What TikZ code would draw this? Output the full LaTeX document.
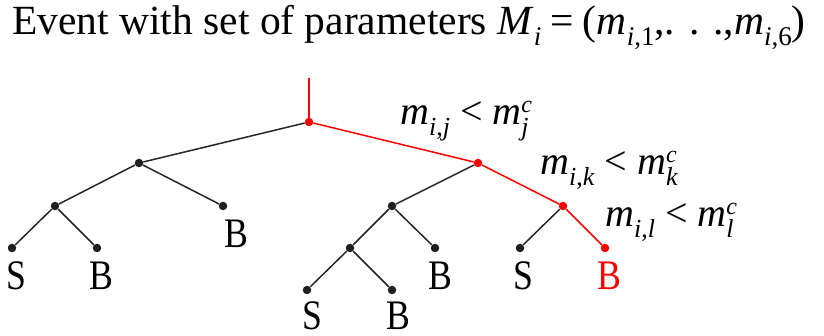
\documentclass[tikz,border=0pt]{standalone}
\usepackage{fontspec}
\setmainfont{Liberation Serif}
\newcommand{\tsub}[2]{\raisebox{-0.26em}{\fontsize{#1}{#1}\selectfont #2}}
\newcommand{\tsup}[2]{\raisebox{0.3em}{\fontsize{#1}{#1}\selectfont #2}}
\begin{document}
\begin{tikzpicture}[x=1pt,y=-1pt,
  dot/.style={circle,fill=black!88,inner sep=0pt,minimum size=8.5pt},
  rdot/.style={dot,fill=red},
  edge/.style={draw=black!85,line width=1.5pt},
  redge/.style={draw=red,line width=1.5pt},
  leaf/.style={anchor=base,inner sep=0pt,text depth=0pt,font=\fontsize{42}{42}\selectfont},
  cond/.style={anchor=base west,inner sep=0pt,font=\fontsize{40}{40}\selectfont},
  title/.style={anchor=base west,inner sep=0pt,font=\fontsize{41.5}{42}\selectfont}]
\useasboundingbox (0,0) rectangle (824,336);
% title
\node[title] (title) at (12,35) {Event with set of parameters \textit{M}\tsub{27}{\textit{i}}\hspace{0.22em}=\hspace{0.22em}(\textit{m}\tsub{27}{\textit{i},1},. . .,\textit{m}\tsub{27}{\textit{i},6})};
% tree nodes
\coordinate (top) at (309,78);
\node[rdot] (n0) at (309,122) {};
\node[dot] (n1) at (139,163) {};
\node[rdot] (n2) at (478,163) {};
\node[dot] (n3) at (55,206) {};
\node[dot] (n4) at (223,206) {};
\node[dot] (n5) at (392,206) {};
\node[rdot] (n6) at (563,206) {};
\node[dot] (n7) at (12,248) {};
\node[dot] (n8) at (97,248) {};
\node[dot] (n9) at (350,248) {};
\node[dot] (n10) at (435,248) {};
\node[dot] (n11) at (520,248) {};
\node[rdot] (n12) at (605,248) {};
\node[dot] (n13) at (307,290) {};
\node[dot] (n14) at (392,290) {};
% edges
\draw[redge] (top) -- (n0);
\draw[edge] (n0) -- (n1);
\draw[redge] (n0) -- (n2);
\draw[edge] (n1) -- (n3);
\draw[edge] (n1) -- (n4);
\draw[edge] (n3) -- (n7);
\draw[edge] (n3) -- (n8);
\draw[edge] (n2) -- (n5);
\draw[redge] (n2) -- (n6);
\draw[edge] (n5) -- (n9);
\draw[edge] (n5) -- (n10);
\draw[edge] (n9) -- (n13);
\draw[edge] (n9) -- (n14);
\draw[edge] (n6) -- (n11);
\draw[redge] (n6) -- (n12);
% leaf labels
\node[leaf] (l4) at (236,248) {\scalebox{0.85}[1]{B}};
\node[leaf] (l7) at (16,290) {\scalebox{0.85}[1]{S}};
\node[leaf] (l8) at (101,290) {\scalebox{0.85}[1]{B}};
\node[leaf] (l10) at (440,290) {\scalebox{0.85}[1]{B}};
\node[leaf] (l11) at (523,290) {\scalebox{0.85}[1]{S}};
\node[leaf,text=red] (l12) at (609,290) {\scalebox{0.85}[1]{B}};
\node[leaf] (l13) at (312,330) {\scalebox{0.85}[1]{S}};
\node[leaf] (l14) at (398,330) {\scalebox{0.85}[1]{B}};
% conditions
\node[cond] (c1) at (400,125) {\textit{m}\tsub{26}{\textit{i},\textit{j}} < \textit{m}\rlap{\tsup{24}{\textit{c}}}\tsub{26}{\textit{j}}};
\node[cond] (c2) at (540,175) {\textit{m}\tsub{26}{\textit{i},\textit{k}} < \textit{m}\rlap{\tsup{24}{\textit{c}}}\tsub{26}{\textit{k}}};
\node[cond] (c3) at (605,227) {\textit{m}\tsub{26}{\textit{i},\textit{l}} < \textit{m}\rlap{\tsup{24}{\textit{c}}}\tsub{26}{\textit{l}}};
\end{tikzpicture}
\end{document}
